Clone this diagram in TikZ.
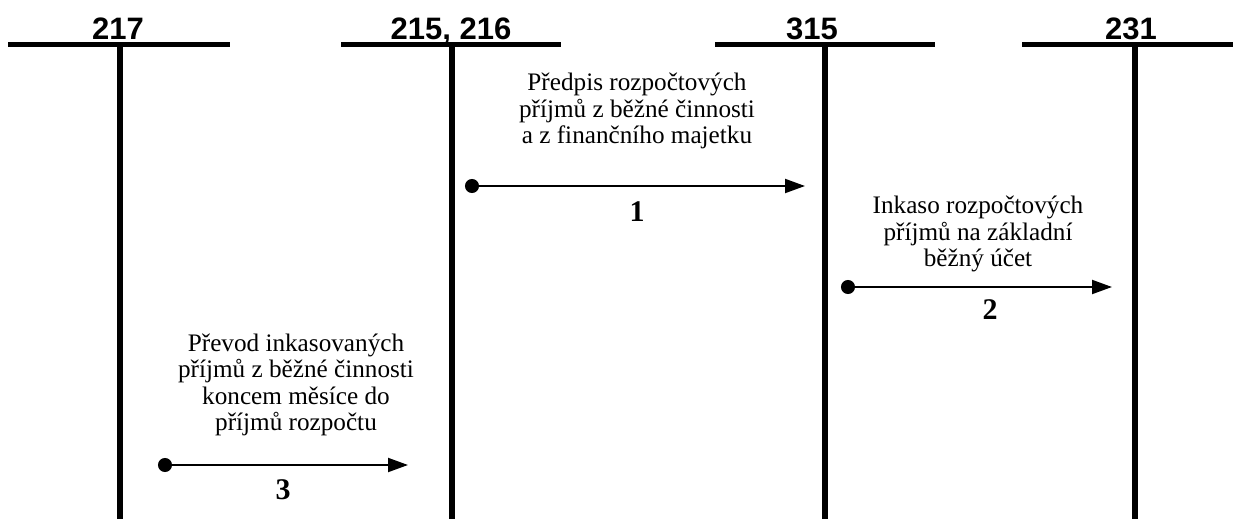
\documentclass[tikz,border=0pt]{standalone}
\usepackage{fontspec}
\setmainfont{Liberation Serif}
\newfontfamily\headfont{Liberation Sans}
\usetikzlibrary{arrows.meta}
\tikzset{
  bar/.style={line width=2.5pt},
  stem/.style={line width=3pt},
  head/.style={anchor=base,font=\headfont\bfseries\fontsize{15.5}{18}\selectfont},
  note/.style={align=center,font=\fontsize{12.6}{13.3}\selectfont},
  num/.style={font=\bfseries\fontsize{15}{17}\selectfont},
  flow/.style={line width=1pt,{Circle[length=7pt]}-{Triangle[length=10pt,width=7pt]}}
}
\begin{document}
\begin{tikzpicture}[x=0.5pt,y=-0.5pt]
\useasboundingbox (0,0) rectangle (1233,519);
\draw[bar] (8,44.5) -- (230,44.5);
\draw[stem] (120,44.5) -- (120,519);
\node[head] (h217) at (118,39.5) {217};
\draw[bar] (341,44.5) -- (561,44.5);
\draw[stem] (452,44.5) -- (452,519);
\node[head] (h215) at (451,39.5) {215, 216};
\draw[bar] (715,44.5) -- (935,44.5);
\draw[stem] (825,44.5) -- (825,519);
\node[head] (h315) at (812,39.5) {315};
\draw[bar] (1022,44.5) -- (1233,44.5);
\draw[stem] (1135,44.5) -- (1135,519);
\node[head] (h231) at (1131,39.5) {231};
\node[note] (t1) at (637,111) {Předpis rozpočtových\\příjmů z běžné činnosti\\a z finančního majetku};
\coordinate (s1) at (465,186);
\coordinate (e1) at (805,186);
\draw[flow] (s1) -- (e1);
\node[num] (n1) at (637,212) {1};
\node[note] (t2) at (978,234) {Inkaso rozpočtových\\příjmů na základní\\běžný účet};
\coordinate (s2) at (841,287);
\coordinate (e2) at (1112,287);
\draw[flow] (s2) -- (e2);
\node[num] (n2) at (990,310) {2};
\node[note] (t3) at (296,385) {Převod inkasovaných\\příjmů z běžné činnosti\\koncem měsíce do\\příjmů rozpočtu};
\coordinate (s3) at (158,465);
\coordinate (e3) at (408,465);
\draw[flow] (s3) -- (e3);
\node[num] (n3) at (283,490) {3};
\end{tikzpicture}
\end{document}
